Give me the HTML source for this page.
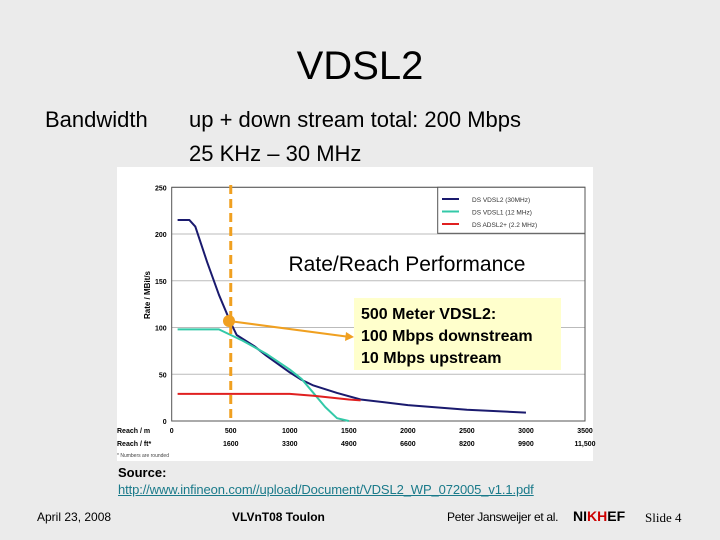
<!DOCTYPE html>
<html><head><meta charset="utf-8"><style>
body{margin:0;width:720px;height:540px;background:#ebebeb;font-family:"Liberation Sans",sans-serif;position:relative;overflow:hidden}
.t{position:absolute;white-space:nowrap;color:#000}
</style></head><body>
<div class="t" style="left:0;width:720px;text-align:center;top:44px;font-size:40px">VDSL2</div>
<div class="t" style="left:45px;top:107px;font-size:22px">Bandwidth</div>
<div class="t" style="left:189px;top:107px;font-size:22px">up + down stream total: 200 Mbps</div>
<div class="t" style="left:189px;top:141px;font-size:22px">25 KHz – 30 MHz</div>
<svg style="position:absolute;left:0;top:0" width="720" height="540" id="c">
<rect x="117" y="167" width="476" height="294" fill="#fff"/>
</svg>
<div class="t" style="left:118px;top:465px;font-size:13px;font-weight:bold">Source:</div>
<div class="t" style="left:118px;top:482px;font-size:13px;color:#1a7a8a;text-decoration:underline;letter-spacing:-0.12px">http://www.infineon.com//upload/Document/VDSL2_WP_072005_v1.1.pdf</div>
<div class="t" style="left:37px;top:510px;font-size:12px">April 23, 2008</div>
<div class="t" style="left:232px;top:510px;font-size:12px;font-weight:bold">VLVnT08 Toulon</div>
<div class="t" style="left:447px;top:510px;font-size:12px;letter-spacing:-0.3px">Peter Jansweijer et al.</div>
<div class="t" style="left:573px;top:508px;font-size:14px;font-weight:bold">NI<span style="color:#c00">K</span><span style="color:#c00">H</span>EF</div>
<div class="t" style="left:645px;top:510px;font-size:13px;font-family:'Liberation Serif',serif">Slide 4</div>
<script>
const xTicks=[0,500,1000,1500,2000,2500,3000,3500];
const ftLabels=["","1600","3300","4900","6600","8200","9900","11,500"];
const yTicks=[0,50,100,150,200,250];
const vdsl2X=[50,150,200,300,400,500,550,600,700,800,1000,1100,1200,1400,1600,1800,2000,2500,3000];
const vdsl2Y=[215,215,208,170,135,105,92,88,80,70,52,44,38,30,23,20,17,12,9];
const vdsl1X=[50,400,500,600,800,1000,1100,1200,1300,1400,1500];
const vdsl1Y=[98,98,92,86,72,55,45,30,15,3,0];
const adslX=[50,1000,1200,1500,1600];
const adslY=[29,29,27,23,22];
const legendNames=["DS VDSL2 (30MHz)","DS VDSL1 (12 MHz)","DS ADSL2+ (2.2 MHz)"];
const colors=["#1a1a6e","#33c9a8","#e02020"];
const X0=171.7,X1=585,Y0=421,Y1=187.3;
const sx=v=>X0+(X1-X0)*v/3500, sy=v=>Y0-(Y0-Y1)*v/250;
const svg=document.getElementById('c'),NS="http://www.w3.org/2000/svg";
function mk(t,a,p){const e=document.createElementNS(NS,t);for(const k in a)e.setAttribute(k,a[k]);(p||svg).appendChild(e);return e;}
yTicks.forEach(v=>{
 const l=mk('line',{x1:X0,x2:X1,y1:sy(v),y2:sy(v),stroke:v==0?'#444':'#bbb','stroke-width':1});
 
 
 const t=mk('text',{x:X0-5,y:sy(v)+3,'font-size':7,'font-weight':'bold','text-anchor':'end'});t.textContent=v;
 
 
});
mk('rect',{x:X0,y:Y1,width:X1-X0,height:Y0-Y1,fill:'none',stroke:'#555','stroke-width':1});
xTicks.forEach((v,i)=>{
 const t=mk('text',{x:sx(v),y:433,'font-size':7,'font-weight':'bold','text-anchor':'middle'});t.textContent=v;
 
 
 const f=mk('text',{x:sx(v),y:446,'font-size':7,'font-weight':'bold','text-anchor':'middle'});f.textContent=ftLabels[i];
 
 
});
[["Reach / m",433],["Reach / ft*",446]].forEach(([s,y])=>{const t=mk('text',{x:117,y:y,'font-size':7,'font-weight':'bold'});t.textContent=s;
 
 });
const fn=mk('text',{x:117,y:457,'font-size':5,fill:'#444'});fn.textContent="* Numbers are rounded";


const yt=mk('text',{x:0,y:0,'font-size':8,'font-weight':'bold',transform:`translate(150,295) rotate(-90)`,'text-anchor':'middle'});yt.textContent="Rate / MBit/s";


[[vdsl2X,vdsl2Y],[vdsl1X,vdsl1Y],[adslX,adslY]].forEach(([xs,ys],i)=>{
 const p=mk('polyline',{points:xs.map((x,j)=>sx(x)+','+sy(ys[j])).join(' '),fill:'none',stroke:colors[i],'stroke-width':2,'stroke-linejoin':'round'});
 
 
});
mk('rect',{x:437.7,y:Y1,width:X1-437.7,height:46,fill:'#fff',stroke:'#555'});
legendNames.forEach((n,i)=>{
 const y=199+i*12.5;
 const l=mk('line',{x1:442,x2:459,y1:y,y2:y,stroke:colors[i],'stroke-width':2});
 
 
 const t=mk('text',{x:472,y:y+3,'font-size':6.5,fill:'#333'});t.textContent=n;
 
 
});
const dl=mk('line',{x1:sx(500),x2:sx(500),y1:185,y2:421,stroke:'#f0a020','stroke-width':3,'stroke-dasharray':'9,5'});


const ann=mk('rect',{x:354,y:298,width:207,height:72,fill:'#ffffcc'});


["500 Meter VDSL2:","100 Mbps downstream","10 Mbps upstream"].forEach((s,i)=>{const t=mk('text',{x:361,y:319+i*22,'font-size':16,'font-weight':'bold'});t.textContent=s;
 
 });
const ar=mk('line',{x1:229,y1:321,x2:350,y2:337,stroke:'#f0a020','stroke-width':2});


mk('polygon',{points:'354,337 346,332 345,341',fill:'#f0a020'});
const dot=mk('circle',{cx:229,cy:321,r:6,fill:'#f0a020'});


const tt=mk('text',{x:407,y:271,'font-size':21,'text-anchor':'middle'});tt.textContent="Rate/Reach Performance";


</script>
</body></html>
